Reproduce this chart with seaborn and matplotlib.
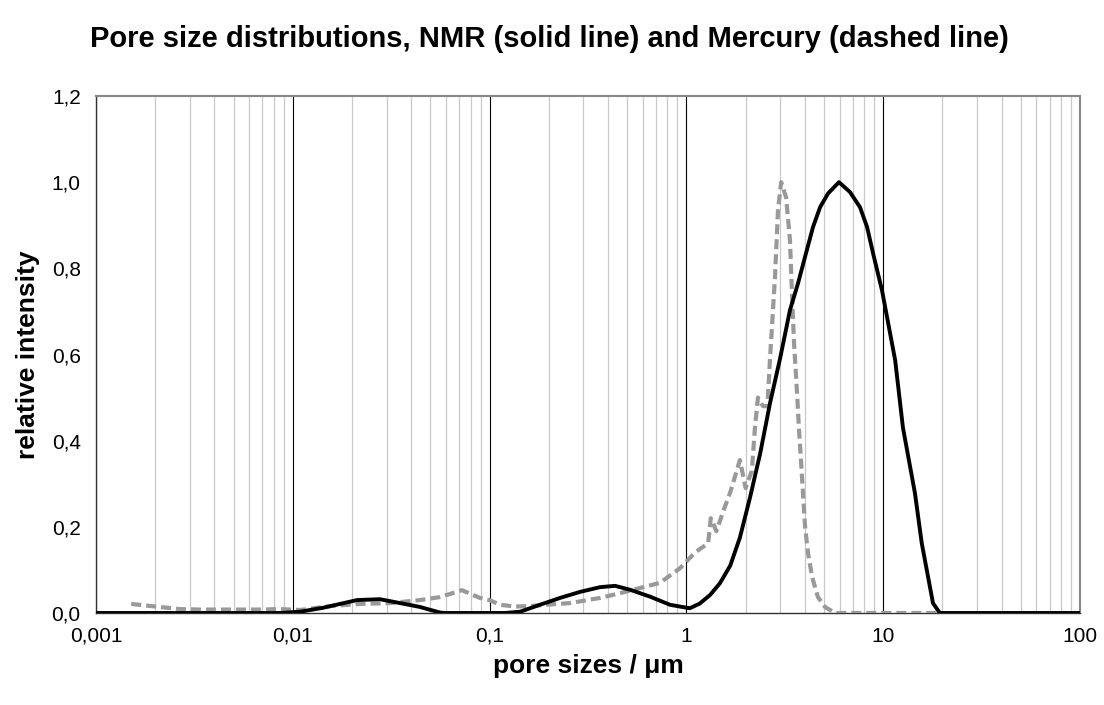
import matplotlib
matplotlib.use("Agg")
import matplotlib.pyplot as plt
import matplotlib.ticker as mticker
import numpy as np
import pandas as pd
import seaborn as sns

# Mercury porosimetry (dashed grey)
hg_x = [0.00151, 0.00211, 0.00267, 0.0034, 0.0048, 0.0068, 0.0086, 0.0109, 0.0155, 0.0219,
        0.0312, 0.0443, 0.056, 0.0724, 0.0893, 0.1, 0.113, 0.135, 0.160, 0.191, 0.256, 0.364,
        0.460, 0.581, 0.734, 0.928, 1.11, 1.29, 1.33, 1.42, 1.55, 1.67, 1.87, 2.0, 2.15, 2.23,
        2.31, 2.45, 2.58, 2.66, 2.82, 2.92, 3.03, 3.21, 3.36, 3.44, 3.52, 3.65, 3.73, 3.82,
        3.91, 4.01, 4.15, 4.35, 4.66, 5.06, 5.69, 10.0, 20.0]
hg_y = [0.021, 0.014, 0.009, 0.008, 0.008, 0.008, 0.009, 0.007, 0.016, 0.021,
        0.023, 0.030, 0.037, 0.053, 0.035, 0.030, 0.019, 0.015, 0.016, 0.019, 0.023, 0.035,
        0.046, 0.058, 0.070, 0.104, 0.141, 0.162, 0.22, 0.19, 0.24, 0.28, 0.355, 0.29, 0.33, 0.43,
        0.50, 0.48, 0.48, 0.59, 0.78, 0.935, 1.0, 0.965, 0.865, 0.74, 0.63, 0.51, 0.43, 0.355,
        0.28, 0.20, 0.139, 0.084, 0.037, 0.014, 0.0, 0.0, 0.0]

# NMR (solid black)
nmr_x = [0.001, 0.0086, 0.0109, 0.0142, 0.0212, 0.0277, 0.0351, 0.0443, 0.056, 0.060,
         0.120, 0.143, 0.180, 0.228, 0.288, 0.364, 0.434, 0.517, 0.653, 0.826, 1.04, 1.17,
         1.32, 1.48, 1.67, 1.87, 2.11, 2.37, 2.66, 2.99, 3.36, 3.69, 4.08, 4.40, 4.78, 5.25,
         5.96, 6.78, 7.62, 8.28, 8.88, 9.86, 11.5, 12.6, 14.5, 15.7, 16.9, 17.9, 19.4, 100.0]
nmr_y = [0.0, 0.0, 0.003, 0.012, 0.030, 0.032, 0.023, 0.014, 0.001, 0.0,
         0.0, 0.003, 0.019, 0.035, 0.049, 0.060, 0.063, 0.054, 0.038, 0.019, 0.011, 0.022,
         0.042, 0.069, 0.110, 0.175, 0.270, 0.370, 0.487, 0.590, 0.703, 0.765, 0.840, 0.896, 0.942, 0.974,
         1.0, 0.977, 0.942, 0.896, 0.835, 0.749, 0.587, 0.430, 0.278, 0.162, 0.084, 0.023, 0.0, 0.0]

x_ticks = [0.001, 0.01, 0.1, 1, 10, 100]
x_tick_labels = ["0,001", "0,01", "0,1", "1", "10", "100"]
y_ticks = [0.0, 0.2, 0.4, 0.6, 0.8, 1.0, 1.2]
y_tick_labels = ["0,0", "0,2", "0,4", "0,6", "0,8", "1,0", "1,2"]

sns.set_style("white")
plt.rcParams["font.family"] = ["Liberation Sans", "DejaVu Sans"]
plt.rcParams["text.color"] = "black"
plt.rcParams["axes.labelcolor"] = "black"
plt.rcParams["xtick.color"] = "black"
plt.rcParams["ytick.color"] = "black"

fig = plt.figure(figsize=(11.04, 7.05), dpi=100)
ax = fig.add_axes([96 / 1104, 1 - 613 / 705, (1080 - 96) / 1104, (613 - 96) / 705])

hg = pd.DataFrame({"x": hg_x, "y": hg_y})
nmr = pd.DataFrame({"x": nmr_x, "y": nmr_y})

ax.set_xscale("log")
ax.set_xlim(0.001, 100)
ax.set_ylim(0, 1.2)

# grid
ax.xaxis.set_minor_locator(mticker.LogLocator(base=10, subs=np.arange(2, 10)))
ax.grid(which="major", axis="x", color="#000000", lw=0.8)
ax.grid(which="minor", axis="x", color="#c8c8c8", lw=0.9)
ax.grid(which="major", axis="y", visible=False)
ax.set_axisbelow(True)

sns.lineplot(data=hg, x="x", y="y", ax=ax, color="#999999", lw=3.0,
             linestyle=(0, (2.4, 1.2)), dash_capstyle="butt", sort=False,
             estimator=None, zorder=3)
sns.lineplot(data=nmr, x="x", y="y", ax=ax, color="#000000", lw=2.8,
             sort=False, estimator=None, zorder=4)

ax.set_xticks(x_ticks)
ax.set_xticklabels(x_tick_labels)
ax.set_yticks(y_ticks)
ax.set_yticklabels(y_tick_labels)
ax.xaxis.set_minor_formatter(mticker.NullFormatter())
ax.tick_params(axis="both", which="major", direction="out", length=5, width=1,
               color="#333333", labelsize=15)
ax.tick_params(axis="x", which="major", pad=5)
ax.tick_params(axis="x", which="minor", length=0)
ax.tick_params(axis="y", pad=6)

for s in ["left", "bottom"]:
    ax.spines[s].set_color("#333333")
    ax.spines[s].set_linewidth(1.0)
for s in ["top", "right"]:
    ax.spines[s].set_color("#888888")
    ax.spines[s].set_linewidth(1.5)

ax.set_xlabel("pore sizes / \u03bcm", fontsize=19, fontweight="bold", labelpad=6)
ax.set_ylabel("relative intensity", fontsize=19, fontweight="bold", labelpad=8)
fig.text(0.498, 0.944, "Pore size distributions, NMR (solid line) and Mercury (dashed line)",
         ha="center", va="center", fontsize=21, fontweight="bold")

fig.savefig("out.png", dpi=100)
